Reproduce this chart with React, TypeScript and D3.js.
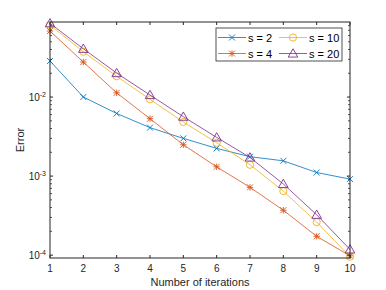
import React from "react";
import * as d3 from "d3";

const iterations = [1, 2, 3, 4, 5, 6, 7, 8, 9, 10];
const errS2 = [0.0286, 0.01, 0.0062, 0.0041, 0.003, 0.00224, 0.00176, 0.00156, 0.00111, 0.000916];
const errS4 = [0.0684, 0.0277, 0.0113, 0.00532, 0.00249, 0.00131, 0.00072, 0.00037, 0.000173, 0.000098];
const errS10 = [0.0815, 0.0374, 0.0183, 0.00935, 0.00483, 0.00264, 0.00139, 0.000646, 0.000262, 0.0000955];
const errS20 = [0.0857, 0.0408, 0.0201, 0.0106, 0.00564, 0.00309, 0.00172, 0.000794, 0.000324, 0.000118];
const seriesNames = ["s = 2", "s = 4", "s = 10", "s = 20"];
const decades = [-4, -3, -2];

const W = 386;
const H = 290;
const m = { left: 50, right: 36, top: 22, bottom: 32 };
const axisColor = "#262626";
const font = "'Liberation Sans', Arial, sans-serif";

type Kind = "x" | "star" | "circle" | "tri";

const series: { name: string; values: number[]; color: string; marker: Kind }[] = [
  { name: seriesNames[0], values: errS2, color: "#0072BD", marker: "x" },
  { name: seriesNames[1], values: errS4, color: "#D95319", marker: "star" },
  { name: seriesNames[2], values: errS10, color: "#EDB120", marker: "circle" },
  { name: seriesNames[3], values: errS20, color: "#7E2F8E", marker: "tri" },
];

function Marker({ kind, x, y, color }: { kind: Kind; x: number; y: number; color: string }) {
  const s = 3;
  const sw = 0.9;
  if (kind === "x") {
    return (
      <path d={`M${x - s},${y - s}L${x + s},${y + s}M${x - s},${y + s}L${x + s},${y - s}`} stroke={color} strokeWidth={sw} />
    );
  }
  if (kind === "star") {
    const r = 3.2;
    return (
      <path
        d={`M${x - r},${y}L${x + r},${y}M${x},${y - r}L${x},${y + r}M${x - s},${y - s}L${x + s},${y + s}M${x - s},${y + s}L${x + s},${y - s}`}
        stroke={color}
        strokeWidth={sw}
      />
    );
  }
  if (kind === "circle") {
    return <circle cx={x} cy={y} r={3.6} fill="none" stroke={color} strokeWidth={sw} />;
  }
  const t = d3.symbol(d3.symbolTriangle, 40)() as string;
  return <path d={t} transform={`translate(${x},${y + 0.8})`} fill="none" stroke={color} strokeWidth={sw} />;
}

export default function App() {
  const x = d3.scaleLinear().domain([1, 10]).range([m.left, W - m.right]);
  const y = d3.scaleLog().domain([9.2e-5, 0.089]).range([H - m.bottom, m.top]);
  const line = d3
    .line<number>()
    .x((_d, i) => x(iterations[i]))
    .y((d) => y(d));

  const minor: number[] = [];
  [-5, -4, -3, -2].forEach((e) => {
    for (let k = 2; k <= 9; k++) {
      const v = k * Math.pow(10, e);
      if (v >= 9.2e-5 && v <= 0.089) minor.push(v);
    }
  });

  const x0 = m.left;
  const x1 = W - m.right;
  const y0 = H - m.bottom;
  const y1 = m.top;

  const lg = { x: 216, y: 28, w: 126, h: 33 };
  const legendPos = [
    { cx: 218, cy: 37.5 },
    { cx: 218, cy: 53.5 },
    { cx: 279, cy: 37.5 },
    { cx: 279, cy: 53.5 },
  ];

  return (
    <svg width={W} height={H} style={{ position: "absolute", left: 0, top: 0, fontFamily: font }}>
      <rect width={W} height={H} fill="#fff" />
      {series.map((s) => (
        <g key={s.name}>
          <path d={line(s.values) as string} fill="none" stroke={s.color} strokeWidth={0.8} />
          {s.values.map((v, i) => (
            <Marker key={i} kind={s.marker} x={x(iterations[i])} y={y(v)} color={s.color} />
          ))}
        </g>
      ))}

      {/* box and ticks */}
      <rect x={x0} y={y1} width={x1 - x0} height={y0 - y1} fill="none" stroke={axisColor} strokeWidth={1} />
      {iterations.map((t) => (
        <g key={t}>
          <line x1={x(t)} x2={x(t)} y1={y0} y2={y0 - 3} stroke={axisColor} />
          <line x1={x(t)} x2={x(t)} y1={y1} y2={y1 + 3} stroke={axisColor} />
          <text x={x(t)} y={y0 + 14} textAnchor="middle" fontSize={10} fill={axisColor}>
            {t}
          </text>
        </g>
      ))}
      {decades.map((e) => (
        <g key={e}>
          <line x1={x0} x2={x0 + 3} y1={y(Math.pow(10, e))} y2={y(Math.pow(10, e))} stroke={axisColor} />
          <line x1={x1} x2={x1 - 3} y1={y(Math.pow(10, e))} y2={y(Math.pow(10, e))} stroke={axisColor} />
          <text x={x0 - 4} y={y(Math.pow(10, e)) + 4} textAnchor="end" fontSize={10} fill={axisColor}>
            10<tspan dy={-4} fontSize={7}>{e}</tspan>
          </text>
        </g>
      ))}
      {minor.map((v) => (
        <g key={v}>
          <line x1={x0} x2={x0 + 2} y1={y(v)} y2={y(v)} stroke={axisColor} strokeWidth={0.8} />
          <line x1={x1} x2={x1 - 2} y1={y(v)} y2={y(v)} stroke={axisColor} strokeWidth={0.8} />
        </g>
      ))}

      <text x={(x0 + x1) / 2} y={H - 4} textAnchor="middle" fontSize={11} fill={axisColor}>
        Number of iterations
      </text>
      <text transform={`translate(24,${(y0 + y1) / 2}) rotate(-90)`} textAnchor="middle" fontSize={11} fill={axisColor}>
        Error
      </text>

      {/* legend */}
      <rect x={lg.x} y={lg.y} width={lg.w} height={lg.h} fill="#fff" stroke={axisColor} strokeWidth={0.8} />
      {[0, 1, 2, 3].map((i) => {
        const s = series[i];
        const p = legendPos[i];
        return (
          <g key={s.name}>
            <line x1={p.cx} x2={p.cx + 28} y1={p.cy} y2={p.cy} stroke={s.color} strokeWidth={0.8} />
            <Marker kind={s.marker} x={p.cx + 14} y={p.cy} color={s.color} />
            <text x={p.cx + 30} y={p.cy + 4} fontSize={11} fill="#000">
              {s.name}
            </text>
          </g>
        );
      })}
    </svg>
  );
}
